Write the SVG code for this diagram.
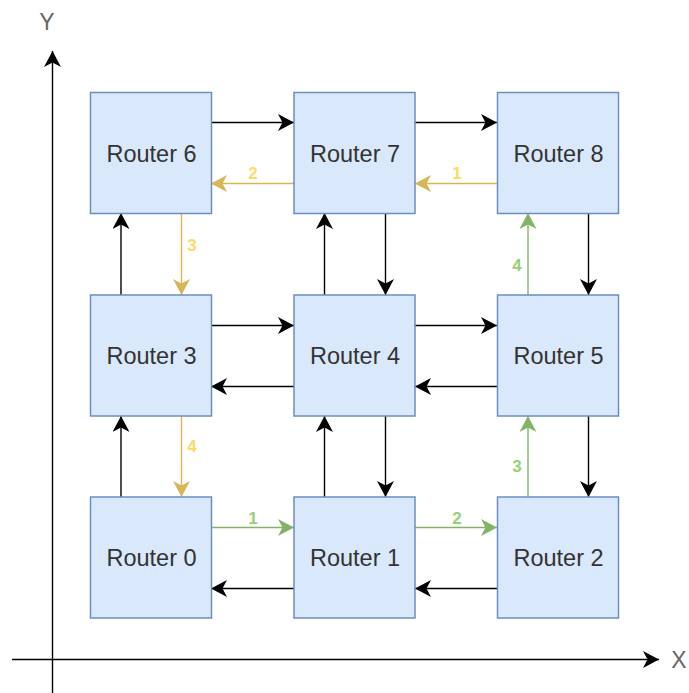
<svg xmlns="http://www.w3.org/2000/svg" width="689" height="693" viewBox="0 0 689 693">
  <style>
    .node rect { fill: #dae8fc; stroke: #6c8ebf; stroke-width: 1.5; }
    .node text { font-family: "Liberation Sans", Arial, sans-serif; font-size: 23.5px; fill: #333333; text-anchor: middle; dominant-baseline: central; }
    .link { fill: none; stroke-width: 1.4; }
    .k { stroke: #000000; marker-end: url(#arrow-k); }
    .y { stroke: #d6b656; marker-end: url(#arrow-y); }
    .g { stroke: #82b366; marker-end: url(#arrow-g); }
    .lbl { font-family: "Liberation Sans", Arial, sans-serif; font-size: 17px; font-weight: bold; text-anchor: middle; dominant-baseline: central; }
    .ly { fill: #ffd966; }
    .lg { fill: #97d077; }
    .axis { stroke: #000000; stroke-width: 1.4; fill: none; marker-end: url(#arrow-k); }
    .axlbl { font-family: "Liberation Sans", Arial, sans-serif; font-size: 23px; fill: #666666; text-anchor: middle; dominant-baseline: central; }
  </style>
  <defs>
    <marker id="arrow-k" markerUnits="userSpaceOnUse" markerWidth="17" markerHeight="17" refX="16" refY="8.5" orient="auto">
      <path d="M0,0 L16,8.5 L0,17 L4.5,8.5 Z" fill="#000000"/>
    </marker>
    <marker id="arrow-y" markerUnits="userSpaceOnUse" markerWidth="17" markerHeight="17" refX="16" refY="8.5" orient="auto">
      <path d="M0,0 L16,8.5 L0,17 L4.5,8.5 Z" fill="#d6b656"/>
    </marker>
    <marker id="arrow-g" markerUnits="userSpaceOnUse" markerWidth="17" markerHeight="17" refX="16" refY="8.5" orient="auto">
      <path d="M0,0 L16,8.5 L0,17 L4.5,8.5 Z" fill="#82b366"/>
    </marker>
  </defs>
  <rect width="689" height="693" fill="#ffffff"/>

  <!-- axes -->
  <g id="axes">
    <line class="axis" x1="52.5" y1="693" x2="52.5" y2="51"/>
    <line class="axis" x1="12" y1="659.5" x2="659" y2="659.5"/>
    <text class="axlbl" x="47" y="22">Y</text>
    <text class="axlbl" x="679" y="660">X</text>
  </g>

  <!-- links between routers -->
  <g id="connectors">
    <!-- top row -->
    <line class="link k" x1="211" y1="122.5" x2="294" y2="122.5"/>
    <line class="link k" x1="415" y1="122.5" x2="497" y2="122.5"/>
    <line class="link y" x1="294" y1="183.5" x2="211" y2="183.5"/>
    <line class="link y" x1="497" y1="183.5" x2="415" y2="183.5"/>
    <!-- middle row -->
    <line class="link k" x1="211" y1="325.5" x2="294" y2="325.5"/>
    <line class="link k" x1="415" y1="325.5" x2="497" y2="325.5"/>
    <line class="link k" x1="294" y1="386.5" x2="211" y2="386.5"/>
    <line class="link k" x1="497" y1="386.5" x2="415" y2="386.5"/>
    <!-- bottom row -->
    <line class="link g" x1="211" y1="527.5" x2="294" y2="527.5"/>
    <line class="link g" x1="415" y1="527.5" x2="497" y2="527.5"/>
    <line class="link k" x1="294" y1="588.5" x2="211" y2="588.5"/>
    <line class="link k" x1="497" y1="588.5" x2="415" y2="588.5"/>
    <!-- between top and middle rows -->
    <line class="link k" x1="121" y1="295" x2="121" y2="213"/>
    <line class="link y" x1="181.5" y1="213" x2="181.5" y2="295"/>
    <line class="link k" x1="324.5" y1="295" x2="324.5" y2="213"/>
    <line class="link k" x1="385.5" y1="213" x2="385.5" y2="295"/>
    <line class="link g" x1="528" y1="295" x2="528" y2="213"/>
    <line class="link k" x1="588.5" y1="213" x2="588.5" y2="295"/>
    <!-- between middle and bottom rows -->
    <line class="link k" x1="121" y1="497" x2="121" y2="416"/>
    <line class="link y" x1="181.5" y1="416" x2="181.5" y2="497"/>
    <line class="link k" x1="324.5" y1="497" x2="324.5" y2="416"/>
    <line class="link k" x1="385.5" y1="416" x2="385.5" y2="497"/>
    <line class="link g" x1="528" y1="497" x2="528" y2="416"/>
    <line class="link k" x1="588.5" y1="416" x2="588.5" y2="497"/>

    <!-- hop numbers -->
    <text class="lbl ly" x="253" y="173">2</text>
    <text class="lbl ly" x="457" y="173">1</text>
    <text class="lbl ly" x="192" y="245">3</text>
    <text class="lbl ly" x="192" y="446">4</text>
    <text class="lbl lg" x="253" y="518">1</text>
    <text class="lbl lg" x="457" y="518">2</text>
    <text class="lbl lg" x="517" y="466">3</text>
    <text class="lbl lg" x="517" y="265">4</text>
  </g>

  <!-- routers -->
  <g id="router6" class="node"><rect x="90.5" y="92.5" width="121" height="121"/><text x="151.5" y="154">Router 6</text></g>
  <g id="router7" class="node"><rect x="294" y="92.5" width="121" height="121"/><text x="355" y="154">Router 7</text></g>
  <g id="router8" class="node"><rect x="497.5" y="92.5" width="121" height="121"/><text x="558.5" y="154">Router 8</text></g>
  <g id="router3" class="node"><rect x="90.5" y="295" width="121" height="121"/><text x="151.5" y="356">Router 3</text></g>
  <g id="router4" class="node"><rect x="294" y="295" width="121" height="121"/><text x="355" y="356">Router 4</text></g>
  <g id="router5" class="node"><rect x="497.5" y="295" width="121" height="121"/><text x="558.5" y="356">Router 5</text></g>
  <g id="router0" class="node"><rect x="90.5" y="497" width="121" height="121"/><text x="151.5" y="558">Router 0</text></g>
  <g id="router1" class="node"><rect x="294" y="497" width="121" height="121"/><text x="355" y="558">Router 1</text></g>
  <g id="router2" class="node"><rect x="497.5" y="497" width="121" height="121"/><text x="558.5" y="558">Router 2</text></g>
</svg>
